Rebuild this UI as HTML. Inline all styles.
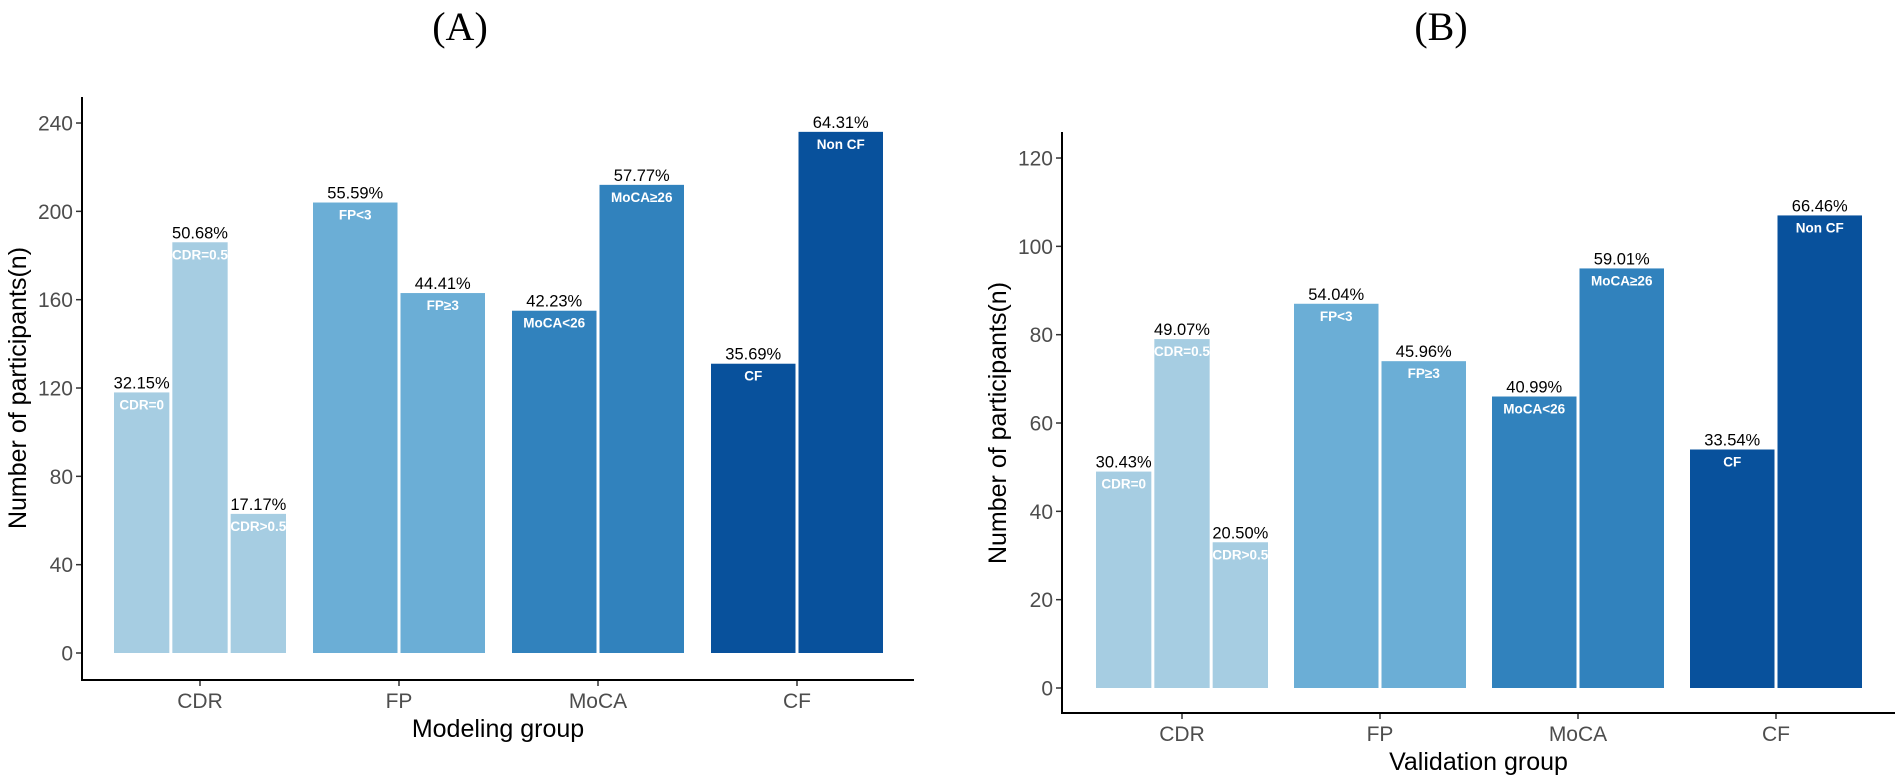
<!DOCTYPE html>
<html><head><meta charset="utf-8"><style>
body{margin:0;background:#fff;}
svg{display:block;font-family:"Liberation Sans",Arial,sans-serif;}
</style></head><body>
<svg id="chart" width="1901" height="781" viewBox="0 0 1901 781" xmlns="http://www.w3.org/2000/svg"></svg>
<script>
const categories = ["CDR","FP","MoCA","CF"];
const colors = ["#a6cde2","#6baed6","#3182bd","#08519c"];
const modelingValues = [[118,186,63],[204,163],[155,212],[131,236]];
const modelingPct = [["32.15%","50.68%","17.17%"],["55.59%","44.41%"],["42.23%","57.77%"],["35.69%","64.31%"]];
const validationValues = [[49,79,33],[87,74],[66,95],[54,107]];
const validationPct = [["30.43%","49.07%","20.50%"],["54.04%","45.96%"],["40.99%","59.01%"],["33.54%","66.46%"]];
const subLabels = [["CDR=0","CDR=0.5","CDR>0.5"],["FP<3","FP≥3"],["MoCA<26","MoCA≥26"],["CF","Non CF"]];
const modelingTicks = [0,40,80,120,160,200,240];
const validationTicks = [0,20,40,60,80,100,120];

const NS="http://www.w3.org/2000/svg";
const svg=document.getElementById('chart');
function mk(tag,attrs,parent){const e=document.createElementNS(NS,tag);for(const k in attrs)e.setAttribute(k,attrs[k]);(parent||svg).appendChild(e);return e;}

function panel(cfg){
  const g=mk('g',{});
  
  
  const yScale=v=>cfg.y0-(v/cfg.tickStep)*cfg.tickPx;
  const xScale=i=>cfg.x0cat+i*cfg.catStep;
  const t=mk('text',{x:cfg.titleX,y:40,'text-anchor':'middle','font-family':'"Liberation Serif",serif','font-size':40,fill:'#000'},g);
  t.textContent=cfg.title;
  
  
  cfg.values.forEach((grp,ci)=>{
    const n=grp.length, gw=175, bw=gw/n;
    const left=xScale(ci)-gw/2;
    grp.forEach((v,bi)=>{
      const x=left+bi*bw+1.5, w=bw-3, yt=yScale(v), yb=yScale(0);
      const r=mk('rect',{x:x,y:yt,width:w,height:yb-yt,fill:colors[ci]},g);
      
      
      const p=mk('text',{x:x+w/2,y:yt-4,'text-anchor':'middle','font-size':16.5,fill:'#000'},g);
      p.textContent=cfg.pct[ci][bi];
      
      
      const s=mk('text',{x:x+w/2,y:yt+17,'text-anchor':'middle','font-size':13.5,'font-weight':'bold',fill:'#fff'},g);
      s.textContent=subLabels[ci][bi];
      
      
    });
    mk('line',{x1:xScale(ci),x2:xScale(ci),y1:cfg.xAxisY,y2:cfg.xAxisY+6,stroke:'#333','stroke-width':1.5},g);
    const lb=mk('text',{x:xScale(ci),y:cfg.xAxisY+28,'text-anchor':'middle','font-size':21,fill:'#4d4d4d'},g);
    lb.textContent=categories[ci];
    
    
  });
  cfg.ticks.forEach(v=>{
    const y=yScale(v);
    mk('line',{x1:cfg.axisX-6,x2:cfg.axisX,y1:y,y2:y,stroke:'#333','stroke-width':1.5},g);
    const lb=mk('text',{x:cfg.axisX-9,y:y+7.5,'text-anchor':'end','font-size':21,fill:'#4d4d4d'},g);
    lb.textContent=v;
    
    
  });
  const ya=mk('line',{x1:cfg.axisX,x2:cfg.axisX,y1:cfg.axisTop,y2:cfg.xAxisY+1,stroke:'#000','stroke-width':2},g);
  
  
  const xa=mk('line',{x1:cfg.axisX-1,x2:cfg.axisRight,y1:cfg.xAxisY,y2:cfg.xAxisY,stroke:'#000','stroke-width':2},g);
  
  
  const xt=mk('text',{x:(cfg.axisX+cfg.axisRight)/2,y:cfg.xAxisY+57,'text-anchor':'middle','font-size':25,fill:'#000'},g);
  xt.textContent=cfg.xTitle;
  
  
  const cy=(yScale(0)+yScale(cfg.ticks[cfg.ticks.length-1]))/2;
  const yt=mk('text',{x:cfg.yTitleX,y:cy,'text-anchor':'middle','font-size':25,fill:'#000',transform:'rotate(-90 '+cfg.yTitleX+' '+cy+')'},g);
  yt.textContent='Number of participants(n)';
  
  
}

panel({name:'panel-a-modeling',title:'(A)',titleX:460,values:modelingValues,pct:modelingPct,ticks:modelingTicks,
  tickStep:40,tickPx:88.33,y0:653,axisX:82,axisTop:97,xAxisY:680,axisRight:914,x0cat:200,catStep:199,
  xTitle:'Modeling group',yTitleX:26});
panel({name:'panel-b-validation',title:'(B)',titleX:1441,values:validationValues,pct:validationPct,ticks:validationTicks,
  tickStep:20,tickPx:88.33,y0:688,axisX:1062,axisTop:132,xAxisY:713,axisRight:1895,x0cat:1182,catStep:198,
  xTitle:'Validation group',yTitleX:1006});
</script>
</body></html>
